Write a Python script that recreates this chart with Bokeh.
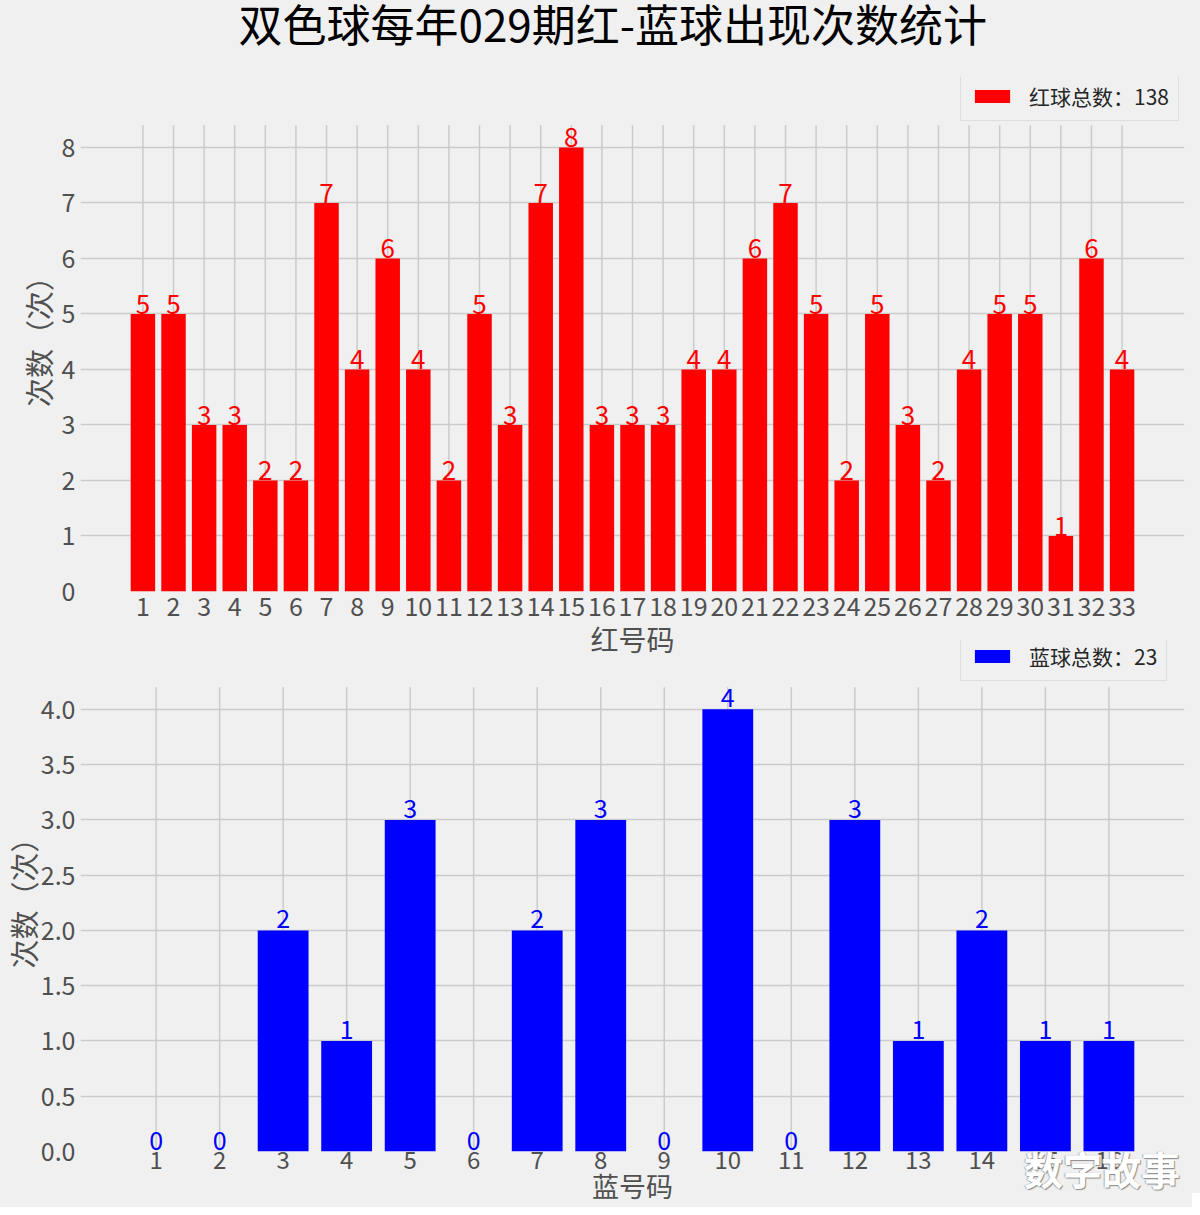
from bokeh.plotting import figure
from bokeh.models import (ColumnDataSource, FixedTicker, Legend, LegendItem, Div,
                          Range1d, NumeralTickFormatter, Title)
from bokeh.layouts import column
from bokeh.core.properties import value
from bokeh.embed import file_html
from bokeh.resources import INLINE

# ---------------- data ----------------
red_numbers = list(range(1, 34))
red_counts = [5, 5, 3, 3, 2, 2, 7, 4, 6, 4, 2, 5, 3, 7, 8, 3, 3,
              3, 4, 4, 6, 7, 5, 2, 5, 3, 2, 4, 5, 5, 1, 6, 4]
blue_numbers = list(range(1, 17))
blue_counts = [0, 0, 2, 1, 3, 0, 2, 3, 0, 4, 0, 3, 1, 2, 1, 1]

title_text = "双色球每年029期红-蓝球出现次数统计"
red_legend = "红球总数：%d" % sum(red_counts)
blue_legend = "蓝球总数：%d" % sum(blue_counts)
red_xlabel = "红号码"
blue_xlabel = "蓝号码"
ylabel = "次数（次）"
red_yticks = [0, 1, 2, 3, 4, 5, 6, 7, 8]
blue_yticks = [0.0, 0.5, 1.0, 1.5, 2.0, 2.5, 3.0, 3.5, 4.0]
watermark = "数字故事"

# ---------------- style ----------------
BG = "#f0f0f0"
GRID = "#cbcbcb"
TXT = "#505050"
CJK = "Noto Sans CJK SC"
RED_YLIM = 8.4      # axes limit of the red panel (grid extent)
BLUE_YLIM = 4.2     # axes limit of the blue panel (grid extent)


def style(p):
    p.background_fill_color = BG
    p.border_fill_color = BG
    p.outline_line_color = None
    for ax in p.axis:
        ax.axis_line_color = None
        ax.major_tick_line_color = None
        ax.minor_tick_line_color = None
        ax.major_tick_out = 0
        ax.major_tick_in = 0
        ax.minor_tick_out = 0
        ax.major_label_text_font = CJK
        ax.major_label_text_font_size = "25px"
        ax.major_label_text_color = TXT
        ax.major_label_standoff = 5
        ax.axis_label_text_font = CJK
        ax.axis_label_text_color = TXT
        ax.axis_label_text_font_style = "normal"
        ax.axis_label_standoff = 0
    p.xaxis.axis_label_text_font_size = "28px"
    p.yaxis.axis_label_text_font_size = "29px"
    p.ygrid.grid_line_color = GRID
    p.ygrid.grid_line_width = 1.5
    p.xgrid.grid_line_color = None


def make_legend(item, loc):
    return Legend(items=[item], location=loc, orientation="vertical",
                  label_text_font=CJK, label_text_font_size="21px",
                  label_text_line_height=1.0,
                  label_text_color="#262626", glyph_width=44, glyph_height=16,
                  label_standoff=15, padding=9, spacing=0, margin=0,
                  label_height=21, border_line_color="#cccccc",
                  border_line_width=1, background_fill_color=BG,
                  background_fill_alpha=1.0)


# ---------------- top: red balls ----------------
src_r = ColumnDataSource(dict(x=red_numbers, top=red_counts,
                              lab=[str(v) for v in red_counts]))
p1 = figure(width=1208, height=689, x_range=Range1d(-1.04, 35.04),
            y_range=Range1d(0, 9.26), output_backend="svg", toolbar_location=None,
            min_border_left=88, min_border_right=8, min_border_top=72,
            min_border_bottom=81, margin=(-17, 0, 0, -8))
p1.title.text = title_text
p1.title.text_font = CJK
p1.title.text_font_size = "44px"
p1.title.text_font_style = "normal"
p1.title.text_color = "#000000"
p1.title.align = "left"
p1.title.offset = 158
p1.add_layout(Title(text=" ", text_font_size="6px"), "above")

p1.segment(x0="x", y0=0, x1="x", y1=RED_YLIM, source=src_r, line_color=GRID,
           line_width=1.5, level="underlay")
r_red = p1.vbar(x="x", top="top", width=0.8, source=src_r,
                fill_color="#ff0000", line_color=None)
p1.text(x="x", y="top", text="lab", source=src_r, text_align="center",
        text_baseline="bottom", text_color="#ff0000", text_font=value(CJK),
        text_font_size="26px", y_offset=0)
p1.xaxis.ticker = FixedTicker(ticks=red_numbers)
p1.yaxis.ticker = FixedTicker(ticks=red_yticks)
p1.yaxis.bounds = (0, RED_YLIM)
p1.xaxis.axis_label = red_xlabel
p1.yaxis.axis_label = ylabel
style(p1)
p1.add_layout(make_legend(LegendItem(label=red_legend, renderers=[r_red]), (880, 470)))

# ---------------- bottom: blue balls ----------------
src_b = ColumnDataSource(dict(x=blue_numbers, top=blue_counts,
                              lab=[str(v) for v in blue_counts]))
p2 = figure(width=1208, height=567, x_range=Range1d(-0.19, 17.19),
            y_range=Range1d(0, 4.623), output_backend="svg", toolbar_location=None,
            min_border_left=88, min_border_right=8, min_border_top=0,
            min_border_bottom=55, margin=(-32, 0, 0, -8))
p2.segment(x0="x", y0=0, x1="x", y1=BLUE_YLIM, source=src_b, line_color=GRID,
           line_width=1.5, level="underlay")
r_blue = p2.vbar(x="x", top="top", width=0.8, source=src_b,
                 fill_color="#0000ff", line_color=None)
p2.text(x="x", y="top", text="lab", source=src_b, text_align="center",
        text_baseline="bottom", text_color="#0000ff", text_font=value(CJK),
        text_font_size="25px", y_offset=-2)
p2.xaxis.ticker = FixedTicker(ticks=blue_numbers)
p2.yaxis.ticker = FixedTicker(ticks=blue_yticks)
p2.yaxis.formatter = NumeralTickFormatter(format="0.0")
p2.yaxis.bounds = (0, BLUE_YLIM)
p2.xaxis.axis_label = blue_xlabel
p2.yaxis.axis_label = ylabel
style(p2)
p2.xaxis.major_label_text_font_size = "24px"
p2.xaxis.axis_label_text_font_size = "27px"
p2.xaxis.major_label_standoff = -1
p2.xaxis.axis_label_standoff = -6
p2.yaxis.axis_label_standoff = -6
p2.background_fill_alpha = 0
p2.add_layout(make_legend(LegendItem(label=blue_legend, renderers=[r_blue]), (880, 470)))

wm = Div(text=watermark, width=175, height=50, margin=(-64, 0, 0, 1024),
         styles={"color": "#ffffff", "font-family": CJK, "font-size": "39px",
                 "font-weight": "bold", "line-height": "50px",
                 "text-shadow": "1px 1px 1px #8a8a8a, -1px 0 1px #b0b0b0"})

layout = column(p1, p2, wm, spacing=0, styles={"background-color": BG})
open("out.html", "w").write(file_html(layout, INLINE))
